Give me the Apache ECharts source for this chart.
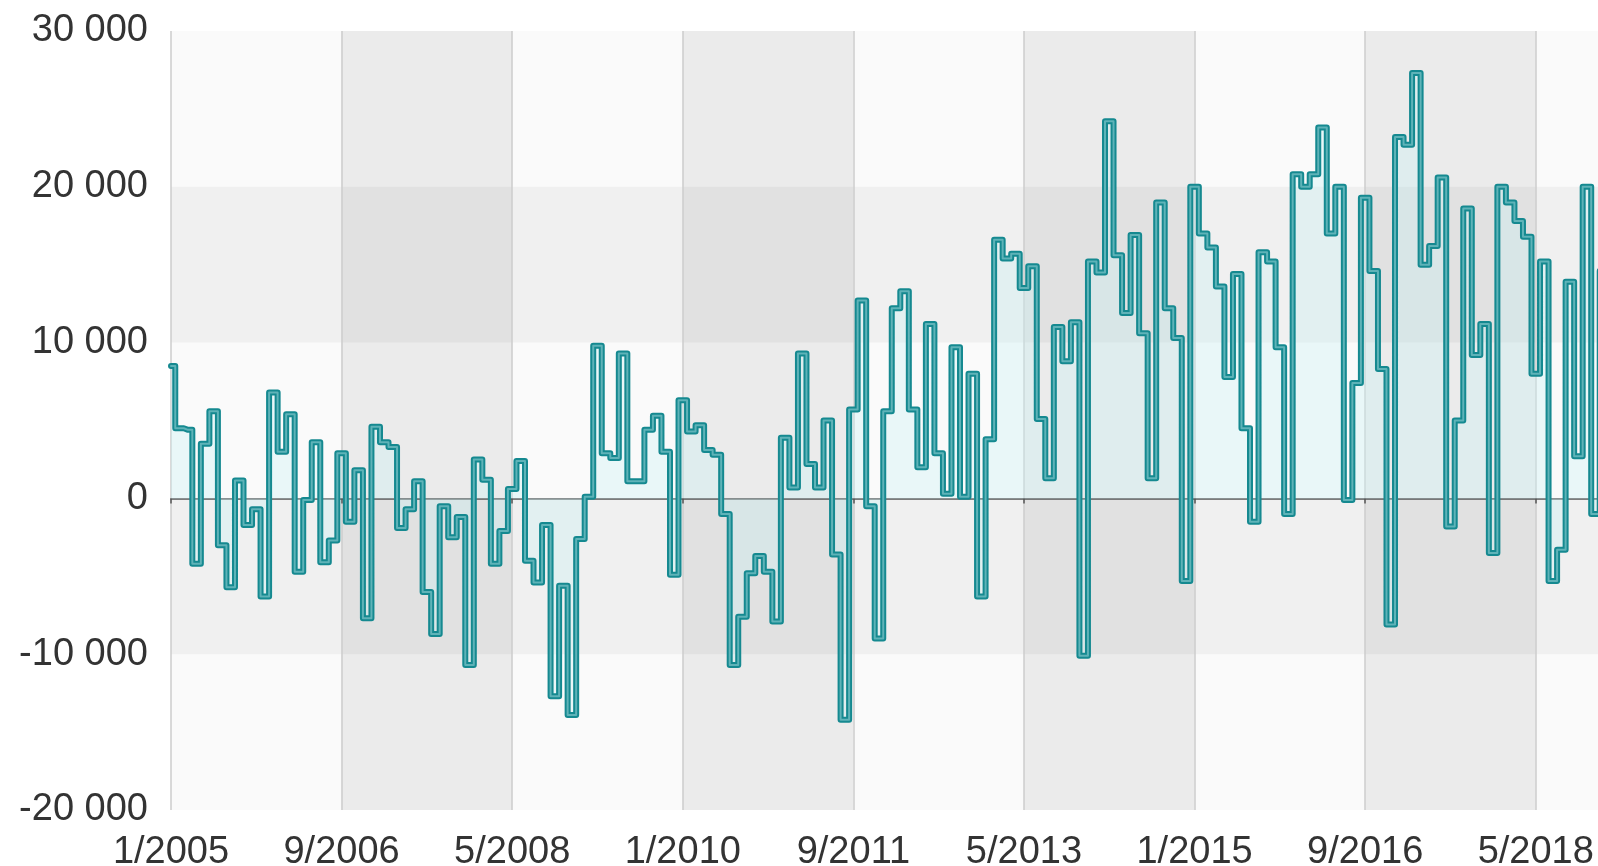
<!DOCTYPE html>
<html>
<head>
<meta charset="utf-8">
<script src="https://cdn.jsdelivr.net/npm/echarts@6/dist/echarts.min.js"></script>
<style>
html,body{margin:0;padding:0;background:#ffffff;}
#chart{width:1598px;height:866px;}
</style>
</head>
<body>
<div id="chart"></div>
<script>
// ---- data ----
const startYear = 2005;
const startMonth = 1;
const monthCount = 169;

const values = [
  8500, 4500, 4400, -4200, 3500, 5600, -3000, -5700, 1150, -1700,
  -700, -6300, 6800, 3000, 5400, -4700, -100, 3600, -4100, -2700,
  2900, -1500, 1800, -7700, 4600, 3600, 3300, -1900, -700, 1100,
  -6000, -8700, -500, -2500, -1200, -10700, 2500, 1200, -4200, -2100,
  600, 2400, -4000, -5400, -1700, -12700, -5600, -13900, -2600, 100,
  9800, 2900, 2600, 9300, 1100, 1100, 4400, 5300, 3000, -4900,
  6300, 4300, 4700, 3100, 2800, -1000, -10700, -7600, -4800, -3700,
  -4700, -7900, 3900, 700, 9300, 2200, 700, 5000, -3600, -14200,
  5700, 12700, -500, -9000, 5600, 12200, 13300, 5700, 2000, 11200,
  2900, 300, 9700, 100, 8000, -6300, 3800, 16600, 15400, 15700,
  13500, 14900, 5100, 1300, 11000, 8800, 11300, -10100, 15200, 14500,
  24200, 15600, 11900, 16900, 10600, 1300, 19000, 12200, 10300, -5300,
  20000, 17000, 16100, 13600, 7800, 14400, 4500, -1500, 15800, 15200,
  9700, -1000, 20800, 20000, 20800, 23800, 17000, 20000, -100, 7400,
  19300, 14600, 8300, -8100, 23200, 22700, 27300, 15000, 16200, 20600,
  -1800, 5000, 18600, 9200, 11200, -3500, 20000, 19000, 17800, 16800,
  8000, 15200, -5300, -3300, 13900, 2700, 20000, -1000, 14600
];

const yMin = -20000;
const yMax = 30000;
const yInterval = 10000;
const labelEvery = 20;

// month labels "M/YYYY"
const categories = [];
for (let i = 0; i < monthCount; i++) {
  const k = startMonth - 1 + i;
  categories.push(((k % 12) + 1) + '/' + (startYear + Math.floor(k / 12)));
}

function fmt(v) {
  const s = String(Math.abs(v)).replace(/\B(?=(\d{3})+(?!\d))/g, ' ');
  return (v < 0 ? '-' : '') + s;
}

const FONT = "'Liberation Sans', Arial, Helvetica, sans-serif";

const chart = echarts.init(document.getElementById('chart'), null, {renderer: 'canvas'});
chart.setOption({
  animation: false,
  backgroundColor: '#ffffff',
  grid: {
    left: 171, right: -6, top: 31, bottom: 56,
    outerBoundsMode: 'none',
    containLabel: false,
    show: true, backgroundColor: '#fafafa', borderWidth: 0
  },
  xAxis: [
    {
      type: 'category',
      data: categories,
      boundaryGap: false,
      position: 'bottom',
      axisLine: {show: false, onZero: false},
      axisTick: {show: false},
      axisLabel: {
        interval: labelEvery - 1, fontSize: 38, color: '#333333',
        fontFamily: FONT, margin: 24
      },
      splitLine: {show: true, interval: labelEvery - 1, lineStyle: {color: '#cccccc', width: 1.5}},
      splitArea: {show: true, interval: labelEvery - 1,
        areaStyle: {color: ['rgba(0,0,0,0)', 'rgba(0,0,0,0.06)']}}
    },
    {
      type: 'category',
      data: categories,
      boundaryGap: false,
      position: 'bottom',
      axisLine: {show: true, onZero: true, lineStyle: {color: '#555555', width: 1.5}},
      axisTick: {show: true, interval: labelEvery - 1, length: 5, lineStyle: {color: '#555555', width: 1.5}},
      axisLabel: {show: false},
      splitLine: {show: false},
      splitArea: {show: false}
    }
  ],
  yAxis: {
    type: 'value',
    min: yMin, max: yMax, interval: yInterval,
    axisLine: {show: false},
    axisTick: {show: false},
    splitLine: {show: false},
    splitArea: {show: true, areaStyle: {color: ['rgba(0,0,0,0)', 'rgba(0,0,0,0.04)']}},
    axisLabel: {fontSize: 38, color: '#333333', fontFamily: FONT, margin: 23, formatter: fmt}
  },
  series: [
    {
      type: 'line', step: 'middle', data: values, xAxisIndex: 0,
      symbol: 'none',
      lineStyle: {color: '#158990', width: 6, cap: 'round', join: 'round'},
      areaStyle: {color: 'rgba(200,240,245,0.5)'},
      z: 3
    },
    {
      type: 'line', step: 'middle', data: values, xAxisIndex: 0,
      symbol: 'none', silent: true,
      lineStyle: {color: '#5fb3b8', width: 2, cap: 'round', join: 'round'},
      z: 4
    }
  ]
});
</script>
</body>
</html>
